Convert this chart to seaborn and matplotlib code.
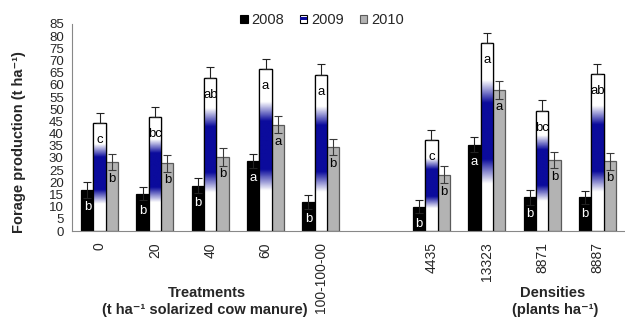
import numpy as np
import pandas as pd
import matplotlib
matplotlib.use("Agg")
import matplotlib.pyplot as plt
import seaborn as sns
from matplotlib.patches import Rectangle
from matplotlib.legend_handler import HandlerBase
from matplotlib.colors import to_rgb

categories = ["0", "20", "40", "60", "100-100-00", " ", "4435", "13323", "8871", "8887"]
data_cats = ["0", "20", "40", "60", "100-100-00", "4435", "13323", "8871", "8887"]
years = ["2008", "2009", "2010"]
y2008 = [16.9, 15.3, 18.5, 28.9, 11.9, 10.0, 35.5, 13.8, 13.8]
y2009 = [44.5, 47.0, 62.9, 66.4, 64.0, 37.3, 77.3, 49.2, 64.3]
y2010 = [28.4, 27.8, 30.4, 43.7, 34.6, 23.1, 57.9, 29.3, 28.6]
e2008 = [3.2, 2.7, 3.1, 2.9, 2.7, 2.8, 3.2, 3.1, 2.7]
e2009 = [4.1, 4.1, 4.6, 4.3, 4.6, 4.2, 4.2, 4.4, 4.4]
e2010 = [3.4, 3.5, 3.8, 3.5, 3.3, 3.5, 3.8, 3.3, 3.5]
l2008 = ["b", "b", "b", "a", "b", "b", "a", "b", "b"]
l2009 = ["c", "bc", "ab", "a", "a", "c", "a", "bc", "ab"]
l2010 = ["b", "b", "b", "a", "b", "b", "a", "b", "b"]

vals = {"2008": y2008, "2009": y2009, "2010": y2010}
errs = {"2008": e2008, "2009": e2009, "2010": e2010}
lets = {"2008": l2008, "2009": l2009, "2010": l2010}

rows = []
for yr in years:
    for c, v in zip(data_cats, vals[yr]):
        rows.append({"cat": c, "val": v, "year": yr})
df = pd.DataFrame(rows)

sns.set_style("white")
plt.rcParams["font.family"] = ["Liberation Sans", "DejaVu Sans"]

BLUE = "#0b0b9c"
fig = plt.figure(figsize=(6.25, 3.2), dpi=100)
ax = fig.add_axes([72 / 625, 89 / 320, 553 / 625, 207 / 320])

palette = {"2008": "black", "2009": "white", "2010": "#b3b3b3"}
sns.barplot(data=df, x="cat", y="val", hue="year", order=categories,
            hue_order=years, palette=palette, width=0.67, saturation=1,
            errorbar=None, legend=False, ax=ax, linewidth=0.9,
            edgecolor="black")

# gradient colormap for 2009 bars (top -> bottom)
stops = [(0.0, 0.0), (0.2, 0.0), (0.32, 1.0), (0.62, 1.0), (0.75, 0.0), (1.0, 0.0)]
N = 200
pos = np.linspace(0, 1, N)
amt = np.interp(pos, [s[0] for s in stops], [s[1] for s in stops])
white = np.array([1.0, 1.0, 1.0])
blue = np.array(to_rgb(BLUE))
grad = (white[None, :] * (1 - amt[:, None]) + blue[None, :] * amt[:, None])[:, None, :]

for yr, cont in zip(years, ax.containers):
    for bar in cont:
        xc = bar.get_x() + bar.get_width() / 2
        h = bar.get_height()
        if not np.isfinite(h) or h == 0:
            continue
        ci = int(round(xc))
        cname = categories[ci]
        di = data_cats.index(cname)
        if yr == "2010":
            bar.set_edgecolor("#5a5a5a")
        if yr == "2009":
            im = ax.imshow(grad, extent=(bar.get_x(), bar.get_x() + bar.get_width(), 0, h),
                           origin="upper", aspect="auto", zorder=2, interpolation="bilinear")
            im.set_clip_path(bar)
            ax.add_patch(Rectangle((bar.get_x(), 0), bar.get_width(), h, fill=False,
                                   edgecolor="black", linewidth=0.9, zorder=2.5))
            yerr = [[0], [errs[yr][di]]]
        else:
            yerr = errs[yr][di]
        ecol = "#3a3a3a" if yr == "2010" else "#222222"
        ax.errorbar(xc, h, yerr=yerr, fmt="none", ecolor=ecol,
                    elinewidth=0.8, capsize=2.8, capthick=0.8, zorder=3)
        tcol = "white" if yr == "2008" else "black"
        ax.text(xc, h - 7, lets[yr][di], ha="center", va="center", fontsize=9.5,
                color=tcol, zorder=4)

ax.set_ylim(0, 85)
ax.set_xlim(-0.5, -0.5 + 553 / 55.7)
ax.set_yticks(np.arange(0, 86, 5))
ax.set_yticklabels([str(v) for v in range(0, 86, 5)], fontsize=9.5)
ax.tick_params(axis="y", direction="out", length=4, color="#888888", width=0.8, pad=2)

ax.set_xticks(np.arange(-0.5, 10.5, 1.0))
ax.set_xticklabels([])
ax.set_xticks(np.arange(0, 10), minor=True)
ax.set_xticklabels(categories, minor=True, rotation=90, fontsize=10, va="top", ha="center")
ax.tick_params(axis="x", which="major", direction="out", length=5, color="#888888", width=0.8)
ax.tick_params(axis="x", which="minor", length=0, pad=8)

for s in ["top", "right"]:
    ax.spines[s].set_visible(False)
for s in ["left", "bottom"]:
    ax.spines[s].set_color("#888888")
    ax.spines[s].set_linewidth(0.8)

ax.set_xlabel("")
ax.set_ylabel("Forage production (t ha\u207b\u00b9)", fontsize=10.5, fontweight="bold")
ax.yaxis.set_label_coords(-0.083, 0.43)

fig.text(207 / 625, 1 - 293 / 320, "Treatments", ha="center", va="center",
         fontsize=10.5, fontweight="bold")
fig.text(205 / 625, 1 - 310 / 320, "(t ha\u207b\u00b9 solarized cow manure)", ha="center",
         va="center", fontsize=10.5, fontweight="bold")
fig.text(553 / 625, 1 - 293 / 320, "Densities", ha="center", va="center",
         fontsize=10.5, fontweight="bold")
fig.text(555 / 625, 1 - 310 / 320, "(plants ha\u207b\u00b9)", ha="center", va="center",
         fontsize=10.5, fontweight="bold")


class GradHandler(HandlerBase):
    def create_artists(self, legend, orig_handle, xdescent, ydescent, width, height,
                       fontsize, trans):
        r1 = Rectangle((-xdescent, -ydescent), width, height, facecolor="white",
                       edgecolor="black", linewidth=0.8, transform=trans)
        r2 = Rectangle((-xdescent, -ydescent + height * 0.3), width, height * 0.4,
                       facecolor=BLUE, edgecolor="none", transform=trans)
        return [r1, r2]


h08 = Rectangle((0, 0), 1, 1, facecolor="black", edgecolor="black", linewidth=0.8)
h09 = Rectangle((0, 0), 1, 1, facecolor="white", edgecolor="black")
h10 = Rectangle((0, 0), 1, 1, facecolor="#b3b3b3", edgecolor="#5a5a5a", linewidth=0.8)
fig.legend([h08, h09, h10], years, handler_map={h09: GradHandler()},
           loc="center", bbox_to_anchor=(322 / 625, 1 - 20 / 320), ncol=3, frameon=False,
           fontsize=10.5, handlelength=0.5, handleheight=0.5, handletextpad=0.25,
           columnspacing=1.1, borderpad=0)

fig.savefig("out.png", dpi=100)
